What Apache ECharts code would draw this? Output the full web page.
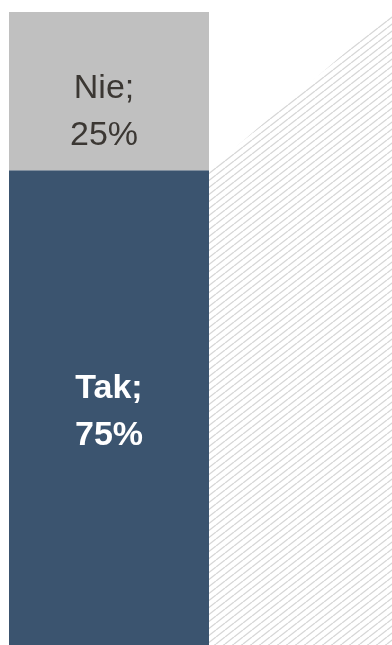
<!DOCTYPE html>
<html>
<head>
<meta charset="utf-8">
<script src="https://cdn.jsdelivr.net/npm/echarts@6/dist/echarts.min.js"></script>
<style>
  html, body { margin: 0; padding: 0; background: #ffffff; }
  #chart { width: 392px; height: 645px; }
</style>
</head>
<body>
<div id="chart"></div>
<script>
// Survey answers and their shares (%), stacked bottom to top
const answers = ['Tak', 'Nie'];
const shares = [75, 25];

// Connector band towards the next column: starts at the top of "Tak", ends at that column's total
const connectorLevels = [75, 100];

// Horizontal layout in axis units: the column spans 0..1, the band runs to the plot's right edge
const columnLeft = 0;
const columnRight = 1;
const connectorTo = 1.915;

const colors = { Tak: '#3b546f', Nie: '#c0c0c0' };

const labelStyles = {
  Tak: { fill: '#ffffff', fontWeight: 'bold', offset: [0, 4] },
  Nie: { fill: '#3b3733', fontWeight: 'normal', offset: [-5, 21] }
};

// Stack the segments: each row is [left, right, bottom, top, share, answerIndex]
const segments = [];
let base = 0;
shares.forEach((v, i) => {
  segments.push([columnLeft, columnRight, base, base + v, v, i]);
  base += v;
});

// Diagonal hatch tile used to fill the connector band
function hatchTile() {
  const w = 9, h = 7;
  const c = document.createElement('canvas');
  c.width = w; c.height = h;
  const ctx = c.getContext('2d');
  ctx.strokeStyle = '#d6d6d6';
  ctx.lineWidth = 1.3;
  for (const dx of [-w, 0, w]) {
    ctx.beginPath();
    ctx.moveTo(dx, h);
    ctx.lineTo(dx + w, 0);
    ctx.stroke();
  }
  return c;
}
const hatch = { image: hatchTile(), repeat: 'repeat' };

const chart = echarts.init(document.getElementById('chart'), null, { renderer: 'canvas' });

const columnSeries = {
  type: 'custom',
  name: 'column',
  data: segments,
  renderItem: function (params, api) {
    const p0 = api.coord([api.value(0), api.value(3)]);
    const p1 = api.coord([api.value(1), api.value(2)]);
    const name = answers[api.value(5)];
    const st = labelStyles[name];
    return {
      type: 'rect',
      shape: { x: p0[0], y: p0[1], width: p1[0] - p0[0], height: p1[1] - p0[1] },
      style: { fill: colors[name] },
      textContent: {
        style: {
          text: name + ';\n' + api.value(4) + '%',
          fill: st.fill,
          fontFamily: '"Liberation Sans", Arial, sans-serif',
          fontSize: 34,
          fontWeight: st.fontWeight,
          lineHeight: 47,
          align: 'center'
        }
      },
      textConfig: { position: 'inside', offset: st.offset }
    };
  },
  silent: true,
  animation: false,
  z: 3
};

const connectorSeries = {
  type: 'custom',
  name: 'connector',
  data: [[columnRight, connectorLevels[0], connectorTo, connectorLevels[1]]],
  renderItem: function (params, api) {
    const x0 = api.value(0), y0 = api.value(1), x1 = api.value(2), y1 = api.value(3);
    const pts = [
      api.coord([x0, y0]),
      api.coord([x1, y1]),
      api.coord([x1, 0]),
      api.coord([x0, 0])
    ];
    return {
      type: 'polygon',
      shape: { points: pts },
      style: { fill: hatch, stroke: null }
    };
  },
  silent: true,
  animation: false,
  z: 1
};

chart.setOption({
  animation: false,
  backgroundColor: '#ffffff',
  grid: { left: 9, right: 0, top: 12, bottom: -7, containLabel: false },
  xAxis: { type: 'value', min: 0, max: connectorTo, show: false },
  yAxis: { type: 'value', min: 0, max: 100, show: false },
  series: [connectorSeries, columnSeries]
});
</script>
</body>
</html>
